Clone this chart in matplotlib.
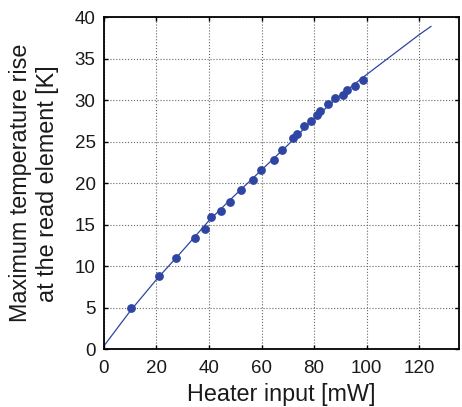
import matplotlib
matplotlib.use("Agg")
import matplotlib.pyplot as plt

# measured points
heater_mw = [10.2, 20.9, 27.5, 34.8, 38.3, 40.9, 44.5, 48.0, 52.1, 56.7,
             59.9, 64.8, 67.9, 72.1, 73.6, 76.2, 78.7, 81.3, 82.2, 85.4,
             87.9, 91.0, 92.5, 95.7, 98.7]
temp_rise = [4.94, 8.8, 11.0, 13.4, 14.5, 15.9, 16.7, 17.8, 19.15, 20.4,
             21.6, 22.8, 24.0, 25.4, 25.9, 26.9, 27.5, 28.2, 28.7, 29.5,
             30.3, 30.6, 31.2, 31.7, 32.5]

# calculated curve
model_mw = [0, 10, 20, 30, 40, 50, 60, 70, 80, 90, 100, 110, 120, 124.5]
model_k = [0.4, 4.6, 8.4, 11.9, 15.5, 18.6, 21.6, 24.6, 27.8, 30.6,
           33.1, 35.5, 37.9, 38.9]

x_ticks = [0, 20, 40, 60, 80, 100, 120]
y_ticks = [0, 5, 10, 15, 20, 25, 30, 35, 40]

plt.rcParams["font.family"] = ["Liberation Sans", "DejaVu Sans"]

fig = plt.figure(figsize=(4.62, 4.07), dpi=100)
ax = fig.add_axes([0.225, 0.142, 0.7675, 0.8155])

blue = "#2e45a3"
ax.plot(model_mw, model_k, color=blue, lw=0.9)
ax.plot(heater_mw, temp_rise, "o", color=blue, ms=5.3, mec=blue)

ax.set_xlim(0, 135)
ax.set_ylim(0, 40)
ax.set_xticks(x_ticks)
ax.set_yticks(y_ticks)
ax.grid(True, color="0.4", linestyle=":", linewidth=0.8)
ax.tick_params(direction="in", top=True, right=True, length=3, width=1,
               labelsize=13.5, labelcolor="0.1")
ax.tick_params(axis="x", pad=8)
ax.tick_params(axis="y", pad=6)
for sp in ax.spines.values():
    sp.set_linewidth(1.3)

ax.set_xlabel("Heater input [mW]", fontsize=16.8, labelpad=4, color="0.1")
ax.set_ylabel("Maximum temperature rise\nat the read element [K]",
              fontsize=16.8, labelpad=11, linespacing=1.25, color="0.1")

fig.savefig("out.png", dpi=100)
